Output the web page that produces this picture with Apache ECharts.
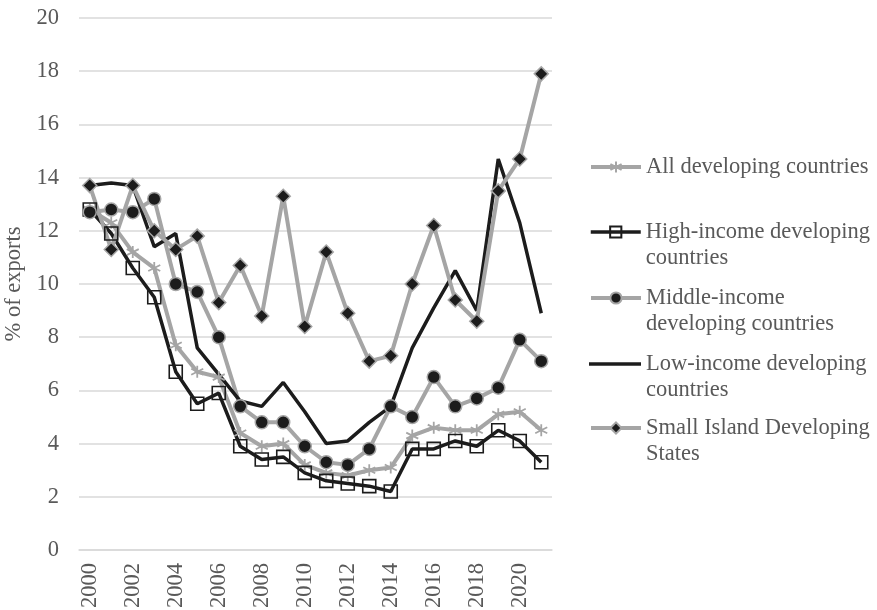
<!DOCTYPE html>
<html>
<head>
<meta charset="utf-8">
<script src="https://cdn.jsdelivr.net/npm/echarts@6/dist/echarts.min.js"></script>
<style>
  html, body { margin: 0; padding: 0; background: #ffffff; }
  #chart { width: 877px; height: 610px; }
</style>
</head>
<body>
<div id="chart"></div>
<script>
// Export share by country group, % of exports, 2000-2021
const years = ['2000','2001','2002','2003','2004','2005','2006','2007','2008','2009','2010',
               '2011','2012','2013','2014','2015','2016','2017','2018','2019','2020','2021'];

const allDeveloping = [12.8, 12.3, 11.2, 10.6, 7.7, 6.7, 6.5, 4.4, 3.9, 4.0, 3.2,
                       2.9, 2.8, 3.0, 3.1, 4.3, 4.6, 4.5, 4.5, 5.1, 5.2, 4.5];
const highIncome    = [12.8, 11.9, 10.6, 9.5, 6.7, 5.5, 5.9, 3.9, 3.4, 3.5, 2.9,
                       2.6, 2.5, 2.4, 2.2, 3.8, 3.8, 4.1, 3.9, 4.5, 4.1, 3.3];
const middleIncome  = [12.7, 12.8, 12.7, 13.2, 10.0, 9.7, 8.0, 5.4, 4.8, 4.8, 3.9,
                       3.3, 3.2, 3.8, 5.4, 5.0, 6.5, 5.4, 5.7, 6.1, 7.9, 7.1];
const lowIncome     = [13.7, 13.8, 13.7, 11.4, 11.9, 7.6, 6.6, 5.6, 5.4, 6.3, 5.2,
                       4.0, 4.1, 4.8, 5.4, 7.6, 9.1, 10.5, 9.0, 14.7, 12.3, 8.9];
const smallIslands  = [13.7, 11.3, 13.7, 12.0, 11.3, 11.8, 9.3, 10.7, 8.8, 13.3, 8.4,
                       11.2, 8.9, 7.1, 7.3, 10.0, 12.2, 9.4, 8.6, 13.5, 14.7, 17.9];

const seriesNames = [
  'All developing countries',
  'High-income developing\ncountries',
  'Middle-income\ndeveloping countries',
  'Low-income developing\ncountries',
  'Small Island Developing\nStates'
];

const GREY = '#a5a5a5';
const DARK = '#1c1c1c';
const TEXT = '#595959';
const FONT = '"Liberation Serif", "Times New Roman", serif';
const FS = 22.5;
const ASTERISK = 'path://M5,0L5,10M0.67,2.5L9.33,7.5M0.67,7.5L9.33,2.5';

// One legend block per series so each entry sits at its own height;
// two-line entries get a blank leading line so the key lines up with the first line.
function legendAt(name, top, twoLine, lineColor, lineWidth, icon) {
  const item = icon ? { name: name, icon: icon } : { name: name };
  return {
    orient: 'vertical',
    left: 589,
    top: top,
    padding: 0,
    itemWidth: icon ? 52 : 50,
    itemHeight: icon ? 3.5 : 14,
    itemGap: 0,
    data: [item],
    selectedMode: false,
    lineStyle: { color: lineColor, width: lineWidth },
    formatter: function (n) { return twoLine ? ' \n' + n : n; },
    textStyle: {
      color: TEXT,
      fontFamily: FONT,
      fontSize: FS,
      lineHeight: 26
    }
  };
}

const chart = echarts.init(document.getElementById('chart'), null, { renderer: 'canvas' });

chart.setOption({
  backgroundColor: '#ffffff',
  animation: false,
  grid: { left: 79, right: 325, top: 18, bottom: 60, containLabel: false, outerBoundsMode: 'none' },
  legend: [
    legendAt(seriesNames[0], 154, false, GREY, 4),
    legendAt(seriesNames[1], 193, true, DARK, 3.5),
    legendAt(seriesNames[2], 259, true, GREY, 4),
    legendAt(seriesNames[3], 325, true, DARK, 3.5, 'rect'),
    legendAt(seriesNames[4], 389, true, GREY, 4)
  ],
  xAxis: {
    type: 'category',
    data: years,
    boundaryGap: true,
    axisLine: { lineStyle: { color: '#d9d9d9', width: 1.5 } },
    axisTick: { show: false },
    axisLabel: {
      interval: 1,
      rotate: 90,
      margin: 13,
      color: TEXT,
      fontFamily: FONT,
      fontSize: FS
    }
  },
  yAxis: {
    type: 'value',
    min: 0,
    max: 20,
    interval: 2,
    name: '% of exports',
    nameLocation: 'middle',
    nameRotate: 90,
    nameGap: 50,
    nameTextStyle: { color: TEXT, fontFamily: FONT, fontSize: FS },
    axisLine: { show: false },
    axisTick: { show: false },
    axisLabel: { margin: 20, color: TEXT, fontFamily: FONT, fontSize: FS },
    splitLine: { lineStyle: { color: '#d9d9d9', width: 1.5 } }
  },
  series: [
    {
      name: seriesNames[0],
      type: 'line',
      data: allDeveloping,
      symbol: ASTERISK,
      symbolSize: 12,
      lineStyle: { color: GREY, width: 4 },
      itemStyle: { color: 'rgba(0,0,0,0)', borderColor: GREY, borderWidth: 1.8 }
    },
    {
      name: seriesNames[1],
      type: 'line',
      data: highIncome,
      symbol: 'rect',
      symbolSize: 13,
      lineStyle: { color: DARK, width: 3.5 },
      itemStyle: { color: 'rgba(0,0,0,0)', borderColor: DARK, borderWidth: 1.6 }
    },
    {
      name: seriesNames[2],
      type: 'line',
      data: middleIncome,
      symbol: 'circle',
      symbolSize: 13,
      lineStyle: { color: GREY, width: 4 },
      itemStyle: { color: DARK, borderColor: GREY, borderWidth: 1.5 }
    },
    {
      name: seriesNames[3],
      type: 'line',
      data: lowIncome,
      symbol: 'none',
      lineStyle: { color: DARK, width: 3.5 },
      itemStyle: { color: DARK }
    },
    {
      name: seriesNames[4],
      type: 'line',
      data: smallIslands,
      symbol: 'diamond',
      symbolSize: 14,
      lineStyle: { color: GREY, width: 4 },
      itemStyle: { color: DARK, borderColor: GREY, borderWidth: 1.5 }
    }
  ]
});
</script>
</body>
</html>
